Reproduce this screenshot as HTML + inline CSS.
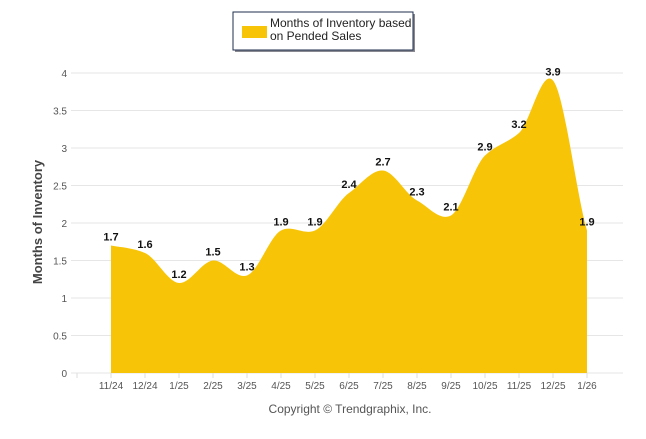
<!DOCTYPE html>
<html><head><meta charset="utf-8"><style>
body{margin:0;background:#fff;width:646px;height:434px;overflow:hidden;font-family:"Liberation Sans",sans-serif}
</style></head><body>
<svg id="c" width="646" height="434">
<g>
<rect x="235" y="14" width="180" height="38" fill="#3a3a4a" opacity="0.6"/>
<rect x="233" y="12" width="180" height="38" fill="#fff" stroke="#1f2f4f" stroke-width="1"/>
<rect x="242" y="26" width="25" height="12" fill="#F7C408"/>
<text x="270" y="27" font-size="12" fill="#222">Months of Inventory based</text>
<text x="270" y="40" font-size="12" fill="#222">on Pended Sales</text>
</g>
<text transform="translate(42,222) rotate(-90)" text-anchor="middle" font-size="13" font-weight="bold" fill="#444">Months of Inventory</text>
<text x="350" y="413" text-anchor="middle" font-size="12" fill="#555">Copyright © Trendgraphix, Inc.</text>
<g id="grid"></g><g id="area"></g><g id="labels"></g>
</svg>
<script>
const categories=["11/24","12/24","1/25","2/25","3/25","4/25","5/25","6/25","7/25","8/25","9/25","10/25","11/25","12/25","1/26"];
const values=[1.7,1.6,1.2,1.5,1.3,1.9,1.9,2.4,2.7,2.3,2.1,2.9,3.2,3.9,1.9];
const yTicks=[0,0.5,1,1.5,2,2.5,3,3.5,4];
const yTickLabels=["0","0.5","1","1.5","2","2.5","3","3.5","4"];
const ns="http://www.w3.org/2000/svg";
const X=i=>111+i*34, Y=v=>373-v*75;
function mk(t,a,p){const e=document.createElementNS(ns,t);for(const k in a)e.setAttribute(k,a[k]);p.appendChild(e);return e;}
const g=document.getElementById('grid');
yTicks.forEach((t,i)=>{
 const l=mk('line',{x1:71,x2:623,y1:Y(t),y2:Y(t),stroke:'#e6e6e6'},g);
 
 
 const tx=mk('text',{x:67,y:Y(t)+4,'text-anchor':'end','font-size':10,fill:'#555'},g);tx.textContent=yTickLabels[i];
 
 
});
for(let i=-1;i<categories.length;i++){mk('line',{x1:X(i),x2:X(i),y1:373,y2:378,stroke:'#ddd'},g);}
categories.forEach((c,i)=>{const t=mk('text',{x:X(i),y:389,'text-anchor':'middle','font-size':10,fill:'#555'},g);t.textContent=c;
 
 });
const pts=values.map((v,i)=>[X(i),Y(v)]);
const n=pts.length,m=[];
for(let i=0;i<n;i++){
 const p=pts[Math.max(0,i-1)],q=pts[Math.min(n-1,i+1)];
 m.push((q[1]-p[1])/(q[0]-p[0])*0.8);
}
let d=`M${pts[0][0]},373 L${pts[0][0]},${pts[0][1]}`;
for(let i=0;i<n-1;i++){const h=34/3;d+=` C${pts[i][0]+h},${pts[i][1]+m[i]*h} ${pts[i+1][0]-h},${pts[i+1][1]-m[i+1]*h} ${pts[i+1][0]},${pts[i+1][1]}`;}
d+=` L${pts[n-1][0]},373 Z`;
const a=mk('path',{d:d,fill:'#F7C408'},document.getElementById('area'));


const lg=document.getElementById('labels');
values.forEach((v,i)=>{const t=mk('text',{x:X(i),y:Y(v)-5,'text-anchor':'middle','font-size':11,'font-weight':'bold',fill:'#111'},lg);t.textContent=v.toFixed(1);
 
 });
</script>
</body></html>
